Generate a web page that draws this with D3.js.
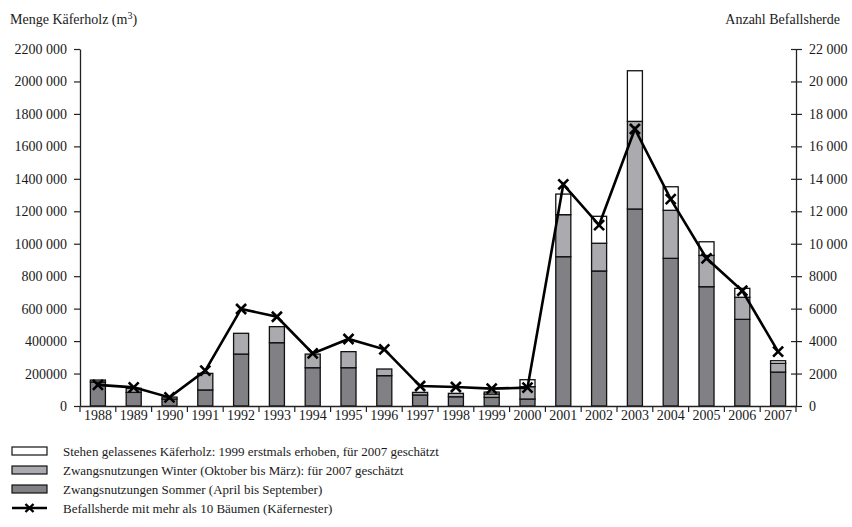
<!DOCTYPE html>
<html><head><meta charset="utf-8">
<script src="https://cdn.jsdelivr.net/npm/d3@7"></script>
<style>
body{margin:0;background:#fff;}
text{font-family:"Liberation Serif","Times New Roman",serif;fill:#1a1a1a;}
</style></head><body>
<svg id="c" width="852" height="527"></svg>
<script>
const years = ["1988","1989","1990","1991","1992","1993","1994","1995","1996","1997","1998","1999","2000","2001","2002","2003","2004","2005","2006","2007"];
const sommer = [148000,84000,43000,99000,320000,390000,236000,236000,187000,68000,57000,53000,43000,920000,832000,1214000,910000,735000,534000,209000];
const winter = [12000,25000,12000,102000,128000,99000,84000,99000,41000,16000,21000,21000,76000,259000,171000,540000,296000,193000,136000,54000];
const stehen = [0,0,0,0,0,0,0,0,0,0,0,12000,43000,127000,166000,312000,145000,84000,55000,16000];
const herde = [1300,1150,530,2180,5980,5500,3240,4130,3490,1230,1170,1070,1130,13660,11150,17070,12750,9100,7100,3350];
const leftTicks = [0,200000,400000,600000,800000,1000000,1200000,1400000,1600000,1800000,2000000,2200000];
const leftTickLabels = ["0","200000","400000","600 000","800 000","1000 000","1200 000","1400 000","1600 000","1800 000","2000 000","2200 000"];
const rightTicks = [0,2000,4000,6000,8000,10000,12000,14000,16000,18000,20000,22000];
const rightTickLabels = ["0","2000","4000","6000","8000","10 000","12 000","14 000","16 000","18 000","20 000","22 000"];
const seriesNames = ["Stehen gelassenes Käferholz: 1999 erstmals erhoben, für 2007 geschätzt","Zwangsnutzungen Winter (Oktober bis März): für 2007 geschätzt","Zwangsnutzungen Sommer (April bis September)","Befallsherde mit mehr als 10 Bäumen (Käfernester)"];

const svg = d3.select("#c");
const L = 80, R = 796, T = 49, B = 406;
const x = d3.scaleBand().domain(years).range([L, R]).padding(0);
const yL = d3.scaleLinear().domain([0, 2200000]).range([B, T]);
const yR = d3.scaleLinear().domain([0, 22000]).range([B, T]);
const barW = x.bandwidth() * 0.42;
const fill = {sommer:"#818185", winter:"#ababaf", stehen:"#ffffff"};

// bars
const stackData = years.map((y,i)=>({year:y, sommer:sommer[i], winter:winter[i], stehen:stehen[i]}));
const stack = d3.stack().keys(["sommer","winter","stehen"])(stackData);
stack.forEach(layer=>{
  svg.append("g").selectAll("rect").data(layer.filter(d=>d[1]-d[0]>0)).join("rect")
    .attr("x", d=>x(d.data.year)+x.bandwidth()/2-barW/2)
    .attr("width", barW)
    .attr("y", d=>yL(d[1]))
    .attr("height", d=>yL(d[0])-yL(d[1]))
    .attr("fill", fill[layer.key])
    .attr("stroke", "#111").attr("stroke-width", 1.3);
});

// axes
const axL = svg.append("g").attr("transform",`translate(${L},0)`)
  .call(d3.axisLeft(yL).tickValues(leftTicks).tickFormat((d,i)=>leftTickLabels[i]).tickSize(6).tickSizeOuter(0));
const axR = svg.append("g").attr("transform",`translate(${R},0)`)
  .call(d3.axisRight(yR).tickValues(rightTicks).tickFormat((d,i)=>rightTickLabels[i]).tickSize(6).tickSizeOuter(0));
axR.selectAll(".tick line").attr("x1",-5);
const axB = svg.append("g").attr("transform",`translate(0,${B})`)
  .call(d3.axisBottom(x).tickSize(0).tickSizeOuter(0));
axB.selectAll(".tick text").attr("y",4).attr("dy","0.71em");
// x ticks at band edges
const edges = years.map(y=>x(y)).concat([R]);
axB.selectAll(".edge").data(edges).join("line").attr("class","edge")
  .attr("x1",d=>d).attr("x2",d=>d).attr("y1",0).attr("y2",6).attr("stroke","#222").attr("stroke-width",1.2);
[axL,axR,axB].forEach(a=>{
  a.selectAll(".domain").attr("stroke","#222").attr("stroke-width",1.3);
  a.selectAll(".tick line").attr("stroke","#222").attr("stroke-width",1.2);
  a.selectAll("text").style("font-size","14px").attr("fill","#1a1a1a").style("font-family","'Liberation Serif',serif");
});
axL.selectAll(".tick text").attr("x",-13);
axR.selectAll(".tick text").attr("x",13);

// line
const cx = i => x(years[i]) + x.bandwidth()/2;
const line = d3.line().x((d,i)=>cx(i)).y(d=>yR(d));
svg.append("path").datum(herde).attr("d",line).attr("fill","none").attr("stroke","#000").attr("stroke-width",2.6);
const s = 5;
svg.append("g").selectAll("path").data(herde).join("path")
  .attr("d",(d,i)=>{const px=cx(i),py=yR(d);return `M${px-s},${py-s}L${px+s},${py+s}M${px-s},${py+s}L${px+s},${py-s}`;})
  .attr("stroke","#000").attr("stroke-width",2.6);

// titles
const t1 = svg.append("text").attr("x",10).attr("y",24).style("font-size","14px");
t1.append("tspan").text("Menge Käferholz (m");
t1.append("tspan").text("3").attr("dy",-5).style("font-size","10px");
t1.append("tspan").text(")").attr("dy",5);
svg.append("text").attr("x",840).attr("y",24).attr("text-anchor","end").style("font-size","14px").text("Anzahl Befallsherde");

// legend
const lg = svg.append("g");
const rowsY = [451,470,489,508];
const legFills = [fill.stehen, fill.winter, fill.sommer];
legFills.forEach((f,i)=>{
  lg.append("rect").attr("x",12).attr("y",rowsY[i]-4).attr("width",35).attr("height",8)
    .attr("fill",f).attr("stroke","#111").attr("stroke-width",1.2);
});
lg.append("line").attr("x1",12).attr("x2",47).attr("y1",rowsY[3]).attr("y2",rowsY[3]).attr("stroke","#000").attr("stroke-width",2.4);
lg.append("path").attr("d",`M${29.5-4},${rowsY[3]-4}L${29.5+4},${rowsY[3]+4}M${29.5-4},${rowsY[3]+4}L${29.5+4},${rowsY[3]-4}`).attr("stroke","#000").attr("stroke-width",2.4);
seriesNames.forEach((n,i)=>{
  lg.append("text").attr("x",63).attr("y",rowsY[i]).attr("dy","0.35em").style("font-size","13px").text(n);
});
</script>
</body></html>
